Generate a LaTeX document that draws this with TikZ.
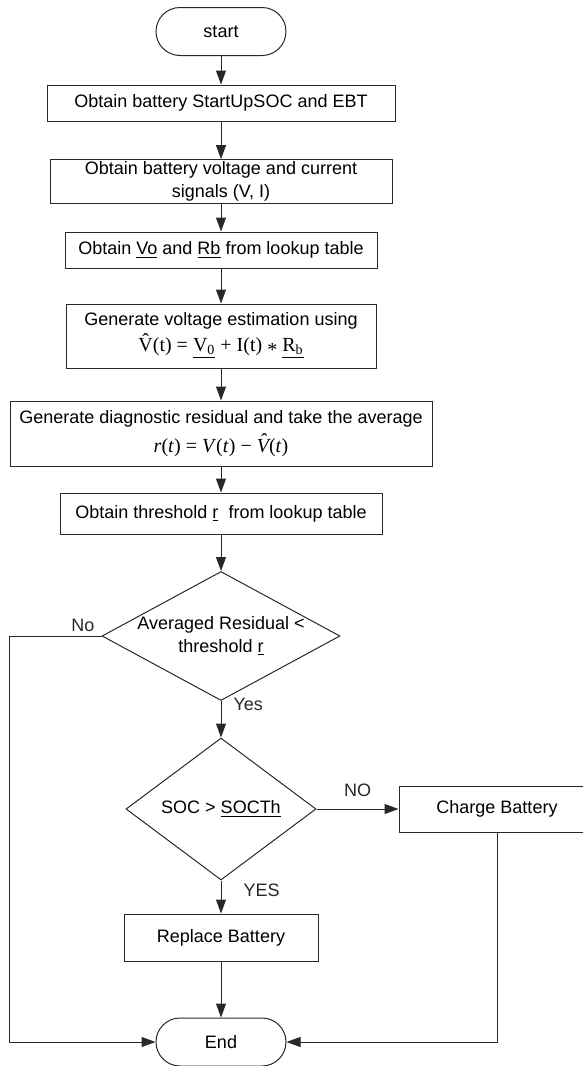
\documentclass[tikz,border=0pt]{standalone}
\usepackage{fontspec}
\setmainfont{Liberation Sans}
\newfontfamily\timesfont{Liberation Serif}
\usetikzlibrary{arrows.meta,shapes.geometric}
\definecolor{lncol}{RGB}{40,40,40}
\newcommand{\eqfont}{\timesfont\fontsize{10}{12}\selectfont}
\newcommand{\hatch}[1]{\ooalign{#1\cr\hidewidth\raisebox{0.22em}{ˆ}\hidewidth\cr}}
\tikzset{
  flowarr/.style={-{Triangle[length=7pt,width=5pt]}, lncol, line width=0.5pt},
  blk/.style={draw=lncol, line width=0.5pt, rectangle, align=center, inner sep=1pt,
              font=\fontsize{9}{11.5}\selectfont},
  term/.style={blk, rounded corners=12pt, minimum width=65pt, minimum height=24pt},
  dec/.style={draw=lncol, line width=0.5pt, diamond, align=center, inner sep=-4pt,
              font=\fontsize{9}{11.5}\selectfont},
  lbl/.style={font=\fontsize{9}{11}\selectfont, inner sep=1pt},
}

\begin{document}
\begin{tikzpicture}[x=0.5pt,y=-0.5pt]
  \useasboundingbox (0,0) rectangle (583,1066);
  % main column
  \node[term] (start) at (221,31.5) {start};
  \node[blk, minimum width=174pt, minimum height=18pt] (soc) at (221,103) {Obtain battery StartUpSOC and EBT};
  \node[blk, minimum width=171pt, minimum height=21.5pt] (sig) at (221,181.5) {Obtain battery voltage and current\\signals (V, I)};
  \node[blk, minimum width=156pt, minimum height=18pt] (look) at (221,250) {Obtain \underline{Vo} and \underline{Rb} from lookup table};
  \node[blk, minimum width=155pt, minimum height=32pt] (est) at (221,336)
    {Generate voltage estimation using\\[1.5pt]{\eqfont \hatch{V}(t) = \underline{V\textsubscript{0}} + I(t) \raisebox{-0.25em}{*} \underline{R\textsubscript{b}}}};
  \node[blk, minimum width=211pt, minimum height=32.5pt] (res) at (221,433.5)
    {Generate diagnostic residual and take the average\\[3pt]{\eqfont \textit{r}(\textit{t}) = \textit{V}(\textit{t}) − \textit{\hatch{V}}(\textit{t})}};
  \node[blk, minimum width=161pt, minimum height=20.5pt] (thr) at (221,513.5) {Obtain threshold \underline{r}\ \ from lookup table};
  % decisions
  \node[dec, shape aspect=1.85, minimum width=119pt, minimum height=64.5pt] (avg) at (221,636) {Averaged Residual <\\threshold \underline{r}};
  \node[dec, shape aspect=1.34, minimum width=95pt, minimum height=71pt] (socth) at (221,809) {SOC > \underline{SOCTh}};
  \node[blk, minimum width=98pt, minimum height=23pt] (chg) at (497,809) {Charge Battery};
  \node[blk, minimum width=97pt, minimum height=23.5pt] (rep) at (221,937.5) {Replace Battery};
  \node[term] (end) at (221,1042) {End};
  \coordinate (lft) at (9,636);

  \draw[flowarr] (start) -- (soc);
  \draw[flowarr] (soc) -- (sig);
  \draw[flowarr] (sig) -- (look);
  \draw[flowarr] (look) -- (est);
  \draw[flowarr] (est) -- (res);
  \draw[flowarr] (res) -- (thr);
  \draw[flowarr] (thr) -- (avg);
  \draw[flowarr] (avg.south) -- node[lbl, pos=0.08, right=5pt] {Yes} (socth.north);
  \draw[flowarr] (socth.south) -- node[lbl, pos=0.3, right=10pt] {YES} (rep.north);
  \draw[flowarr] (rep) -- (end);
  \draw[flowarr] (socth.east) -- node[lbl, above=5pt] {NO} (chg.west);
  \draw[flowarr] (avg.west) -- node[lbl, pos=0.2, above=1pt] {No} (lft) |- (end.west);
  \draw[flowarr] (chg.south) |- (end.east);
\end{tikzpicture}
\end{document}
